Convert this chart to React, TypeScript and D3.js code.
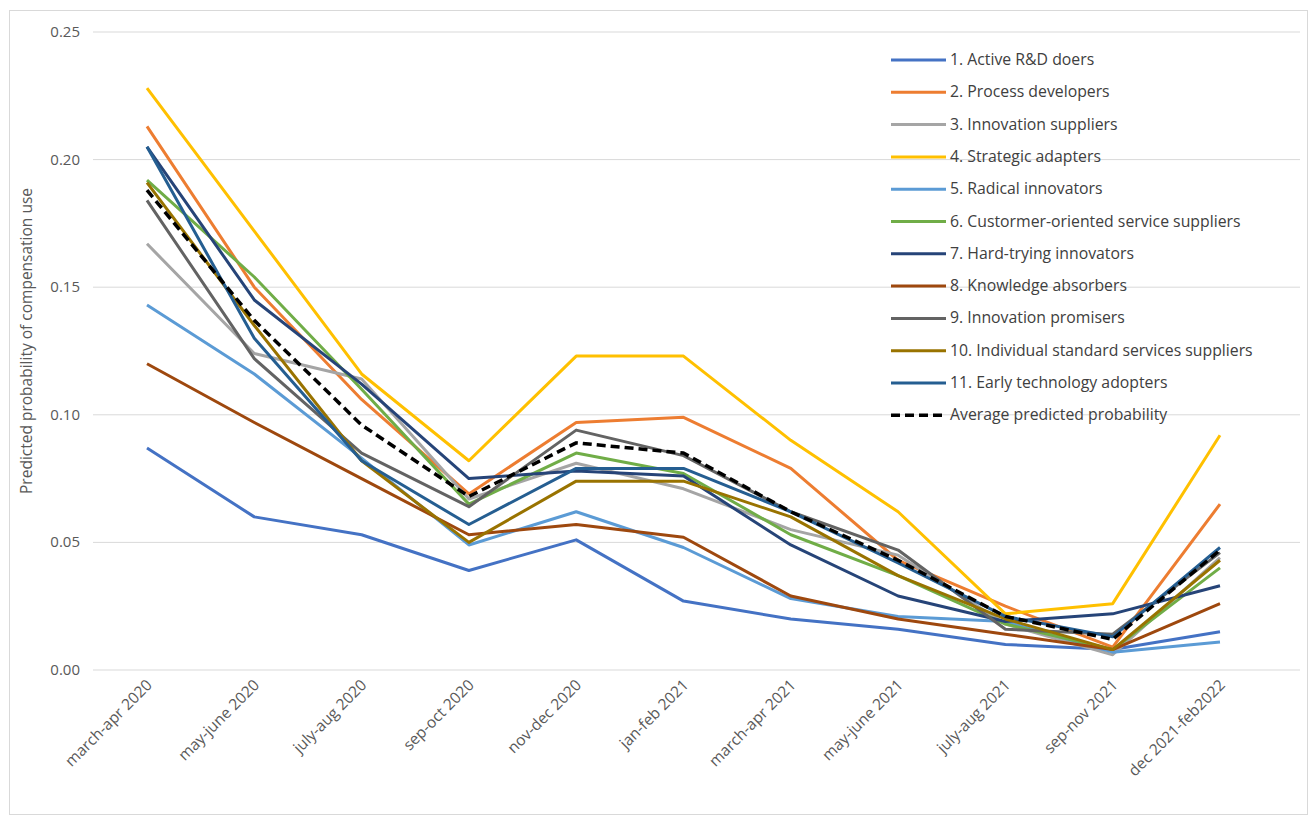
import React from "react";
import * as d3 from "d3";

const categories = ["march-apr 2020","may-june 2020","july-aug 2020","sep-oct 2020","nov-dec 2020","jan-feb 2021","march-apr 2021","may-june 2021","july-aug 2021","sep-nov 2021","dec 2021-feb2022"];
const seriesNames = ["1. Active R&D doers","2. Process developers","3. Innovation suppliers","4. Strategic adapters","5. Radical innovators","6. Custormer-oriented service suppliers","7. Hard-trying innovators","8. Knowledge absorbers","9. Innovation promisers","10. Individual standard services suppliers","11. Early technology adopters","Average predicted probability"];
const s1 = [0.087,0.060,0.053,0.039,0.051,0.027,0.020,0.016,0.010,0.008,0.015];
const s2 = [0.213,0.150,0.106,0.069,0.097,0.099,0.079,0.043,0.025,0.009,0.065];
const s3 = [0.167,0.124,0.114,0.067,0.081,0.071,0.055,0.045,0.018,0.006,0.044];
const s4 = [0.228,0.172,0.116,0.082,0.123,0.123,0.090,0.062,0.022,0.026,0.092];
const s5 = [0.143,0.116,0.083,0.049,0.062,0.048,0.028,0.021,0.019,0.007,0.011];
const s6 = [0.192,0.154,0.110,0.065,0.085,0.077,0.053,0.037,0.018,0.008,0.040];
const s7 = [0.205,0.145,0.112,0.075,0.078,0.076,0.049,0.029,0.019,0.022,0.033];
const s8 = [0.120,0.097,0.075,0.053,0.057,0.052,0.029,0.020,0.014,0.008,0.026];
const s9 = [0.184,0.122,0.085,0.064,0.094,0.084,0.062,0.047,0.016,0.014,0.046];
const s10 = [0.191,0.135,0.082,0.050,0.074,0.074,0.060,0.037,0.020,0.008,0.043];
const s11 = [0.205,0.130,0.082,0.057,0.079,0.079,0.062,0.042,0.021,0.013,0.048];
const avg = [0.188,0.137,0.096,0.068,0.089,0.085,0.062,0.043,0.021,0.012,0.047];
const allSeries = [s1,s2,s3,s4,s5,s6,s7,s8,s9,s10,s11,avg];
const colors = ["#4472C4","#ED7D31","#A5A5A5","#FFC000","#5B9BD5","#70AD47","#264478","#9E480E","#636363","#997300","#255E91","#000000"];
const yTicks = [0,0.05,0.1,0.15,0.2,0.25];

export default function App() {
  const W = 1310, H = 816;
  const left = 93, right = 1300, top = 32, bottom = 670;
  const x = d3.scalePoint<string>().domain(categories).range([147, 1220]).padding(0);
  const y = d3.scaleLinear().domain([0, 0.25]).range([bottom, top]);
  const line = d3.line<number>().x((_, i) => x(categories[i])!).y(d => y(d));
  const font = "'Open Sans', 'Liberation Sans', sans-serif";
  return (
    <svg width={W} height={H} style={{ position: "absolute", left: 0, top: 0 }} fontFamily={font}>
      <rect x={9.5} y={10.5} width={1298} height={804} fill="#fff" stroke="#d9d9d9" />
      {yTicks.map(t => (
        <g key={t}>
          <line x1={left} x2={right} y1={y(t)} y2={y(t)} stroke="#d9d9d9" strokeWidth={1} />
          <text x={80} y={y(t) + 5} textAnchor="end" fontSize={15} fill="#595959">{t.toFixed(2)}</text>
        </g>
      ))}
      <text transform={`translate(32,${(top + bottom) / 2 - 10}) rotate(-90)`} textAnchor="middle" fontSize={15.5} fill="#595959">Predicted probability of compensation use</text>
      {categories.map(c => (
        <text key={c} transform={`translate(${x(c)! + 6},${bottom + 16}) rotate(-45)`} textAnchor="end" fontSize={15.5} fill="#595959">{c}</text>
      ))}
      {allSeries.map((s, i) => (
        <path key={i} d={line(s)!} fill="none" stroke={colors[i]} strokeWidth={i === 11 ? 3.5 : 3}
          strokeDasharray={i === 11 ? "9,5" : undefined} strokeLinejoin="round" />
      ))}
      {seriesNames.map((n, i) => (
        <g key={n} transform={`translate(891,${60 + i * 32.3})`}>
          <line x1={0} x2={55} y1={0} y2={0} stroke={colors[i]} strokeWidth={i === 11 ? 3.5 : 3} strokeDasharray={i === 11 ? "9,5" : undefined} />
          <text x={59} y={5} fontSize={15.8} fill="#404040">{n}</text>
        </g>
      ))}
    </svg>
  );
}
